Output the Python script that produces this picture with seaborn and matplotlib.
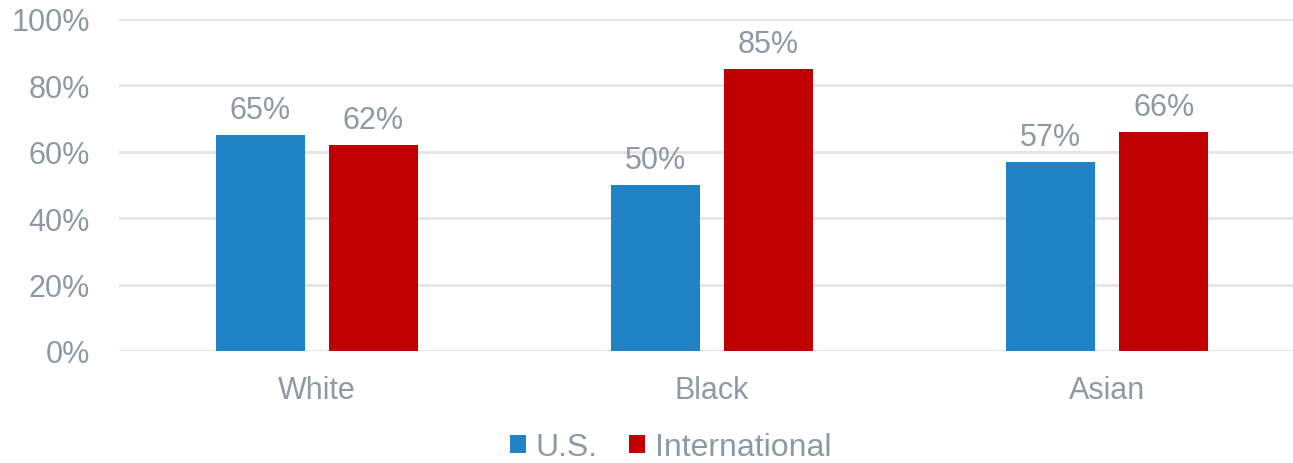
import matplotlib
matplotlib.use("Agg")
import matplotlib.pyplot as plt
import seaborn as sns
import pandas as pd

groups = ["White", "Black", "Asian"]
series_names = ["U.S.", "International"]
us_values = [65, 50, 57]
intl_values = [62, 85, 66]
y_ticks = [0, 20, 40, 60, 80, 100]

colors = {"U.S.": "#2083C6", "International": "#C00000"}
text_color = "#8D9AA6"
grid_color = "#E4E4E4"

df = pd.DataFrame({
    "group": groups * 2,
    "series": [series_names[0]] * 3 + [series_names[1]] * 3,
    "value": us_values + intl_values,
})

sns.set_theme(style="white")
plt.rcParams["font.family"] = ["Liberation Sans", "DejaVu Sans"]

fig = plt.figure(figsize=(12.93, 4.64), dpi=100)
ax = fig.add_axes([119 / 1293, 1 - 352 / 464, 1 - 119 / 1293, 332 / 464])

sns.barplot(data=df, x="group", y="value", hue="series", order=groups,
            hue_order=series_names, palette=colors, width=0.571, gap=0.212,
            linewidth=0, saturation=1, ax=ax)

ax.set_ylim(0, 100)
ax.set_xlim(-0.5, 2.47)
ax.set_yticks(y_ticks)
ax.set_yticklabels([f"{t}%" for t in y_ticks])
ax.yaxis.grid(True, color=grid_color, linewidth=2)
ax.set_axisbelow(True)
for s in ax.spines.values():
    s.set_visible(False)
ax.set_xlabel("")
ax.set_ylabel("")
ax.tick_params(axis="y", length=0, pad=21, labelsize=22, labelcolor=text_color)
ax.tick_params(axis="x", length=0, pad=17, labelsize=22, labelcolor=text_color)

for cont in ax.containers:
    ax.bar_label(cont, labels=[f"{v:.0f}%" for v in cont.datavalues],
                 padding=7, fontsize=22, color=text_color)

ax.legend(loc="center", bbox_to_anchor=(0.5185, 1 - 448 / 464), bbox_transform=fig.transFigure,
          ncol=2, frameon=False, fontsize=23, labelcolor=text_color,
          handlelength=0.5, handleheight=0.5, handletextpad=0.3,
          columnspacing=1.0, borderpad=0, borderaxespad=0)

fig.savefig("out.png", dpi=100)
